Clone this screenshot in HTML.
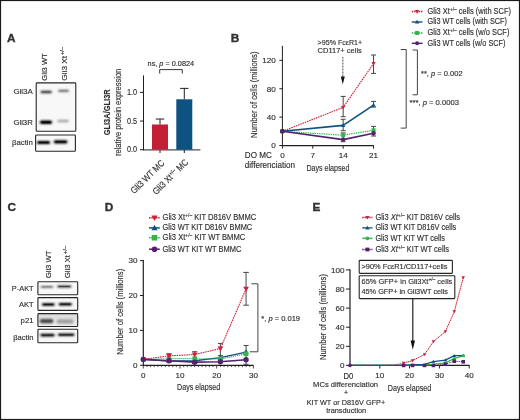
<!DOCTYPE html>
<html><head><meta charset="utf-8"><style>
html,body{margin:0;padding:0;background:#fff;}
svg{display:block;font-family:"Liberation Sans",sans-serif;will-change:transform;}
text{stroke:#303030;stroke-width:0.15px;}
</style></head><body>
<svg width="520" height="420" viewBox="0 0 520 420" fill="#303030">
<defs><filter id="bl" x="-30%" y="-250%" width="160%" height="600%"><feGaussianBlur stdDeviation="1"/></filter></defs>
<rect x="0" y="0" width="520" height="420" fill="#fff"/>
<text x="7.00" y="41.70" font-size="11.8" font-weight="bold" style="stroke-width:0.35px">A</text>
<text x="47.50" y="80.70" font-size="7.6" textLength="27.40" lengthAdjust="spacingAndGlyphs" transform="rotate(-90 47.50 80.70)">Gli3 WT</text>
<g transform="rotate(-90 67.00 80.70)">
<text x="67.00" y="80.70" font-size="7.6" textLength="24.80" lengthAdjust="spacingAndGlyphs">Gli3 Xt</text>
<text x="92.60" y="77.80" font-size="4.71" textLength="8.00" lengthAdjust="spacingAndGlyphs">+/–</text>
</g>
<rect x="36.20" y="82.90" width="39.60" height="48.30" fill="#f8f8f8" stroke="#262626" stroke-width="1.1" rx="0.8"/>
<rect x="40.40" y="90.80" width="11.60" height="2.40" rx="1.20" fill="#000" fill-opacity="0.75" filter="url(#bl)"/>
<rect x="41.90" y="91.40" width="8.60" height="1.20" rx="0.60" fill="#000" fill-opacity="0.3"/>
<rect x="57.90" y="89.70" width="11.20" height="2.20" rx="1.10" fill="#000" fill-opacity="0.55" filter="url(#bl)"/>
<rect x="59.40" y="90.25" width="8.20" height="1.10" rx="0.55" fill="#000" fill-opacity="0.15"/>
<rect x="39.80" y="120.60" width="12.40" height="3.40" rx="1.70" fill="#000" fill-opacity="1.0" filter="url(#bl)"/>
<rect x="41.30" y="121.45" width="9.40" height="1.70" rx="0.85" fill="#000" fill-opacity="0.85"/>
<rect x="57.20" y="119.80" width="11.60" height="2.40" rx="1.20" fill="#000" fill-opacity="0.35" filter="url(#bl)"/>
<rect x="35.60" y="135.00" width="39.80" height="16.20" fill="#f8f8f8" stroke="#262626" stroke-width="1.1" rx="0.8"/>
<rect x="36.90" y="140.90" width="13.40" height="3.20" rx="1.60" fill="#000" fill-opacity="1.0" filter="url(#bl)"/>
<rect x="38.40" y="141.70" width="10.40" height="1.60" rx="0.80" fill="#000" fill-opacity="0.7"/>
<rect x="53.60" y="140.20" width="14.00" height="3.20" rx="1.60" fill="#000" fill-opacity="1.0" filter="url(#bl)"/>
<rect x="55.10" y="141.00" width="11.00" height="1.60" rx="0.80" fill="#000" fill-opacity="0.65"/>
<text x="32.80" y="94.00" font-size="7.7" text-anchor="end" textLength="19.40" lengthAdjust="spacingAndGlyphs">Gli3A</text>
<text x="32.80" y="124.90" font-size="7.7" text-anchor="end" textLength="19.40" lengthAdjust="spacingAndGlyphs">Gli3R</text>
<text x="32.90" y="145.20" font-size="7.7" text-anchor="end" textLength="20.90" lengthAdjust="spacingAndGlyphs">βactin</text>
<line x1="143.50" y1="75.40" x2="143.50" y2="150.20" stroke="#231f20" stroke-width="1" stroke-linecap="butt"/>
<line x1="143.00" y1="149.90" x2="200.40" y2="149.90" stroke="#231f20" stroke-width="1" stroke-linecap="butt"/>
<line x1="140.00" y1="149.70" x2="143.50" y2="149.70" stroke="#231f20" stroke-width="1" stroke-linecap="butt"/>
<text x="137.20" y="152.40" font-size="8.4" text-anchor="end" textLength="10.20" lengthAdjust="spacingAndGlyphs">0.0</text>
<line x1="140.00" y1="121.05" x2="143.50" y2="121.05" stroke="#231f20" stroke-width="1" stroke-linecap="butt"/>
<text x="137.20" y="123.75" font-size="8.4" text-anchor="end" textLength="10.20" lengthAdjust="spacingAndGlyphs">0.5</text>
<line x1="140.00" y1="92.40" x2="143.50" y2="92.40" stroke="#231f20" stroke-width="1" stroke-linecap="butt"/>
<text x="137.20" y="95.10" font-size="8.4" text-anchor="end" textLength="10.20" lengthAdjust="spacingAndGlyphs">1.0</text>
<rect x="152.00" y="124.49" width="16.00" height="25.21" fill="#c42035"/>
<rect x="176.30" y="99.28" width="16.00" height="50.42" fill="#0e5281"/>
<line x1="160.00" y1="124.49" x2="160.00" y2="119.04" stroke="#231f20" stroke-width="1" stroke-linecap="butt"/>
<line x1="155.80" y1="119.04" x2="164.20" y2="119.04" stroke="#231f20" stroke-width="1" stroke-linecap="butt"/>
<line x1="184.30" y1="99.28" x2="184.30" y2="88.39" stroke="#231f20" stroke-width="1" stroke-linecap="butt"/>
<line x1="180.10" y1="88.39" x2="188.50" y2="88.39" stroke="#231f20" stroke-width="1" stroke-linecap="butt"/>
<line x1="160.00" y1="150.00" x2="160.00" y2="153.00" stroke="#231f20" stroke-width="1" stroke-linecap="butt"/>
<line x1="184.30" y1="150.00" x2="184.30" y2="153.00" stroke="#231f20" stroke-width="1" stroke-linecap="butt"/>
<polyline points="159.70,73.50 159.70,69.60 182.30,69.60 182.30,73.50" fill="none" stroke="#231f20" stroke-width="0.9" stroke-linejoin="round"/>
<text x="147.60" y="65.90" font-size="7.0" textLength="46.50" lengthAdjust="spacingAndGlyphs">ns, <tspan font-style="italic">p</tspan> = 0.0824</text>
<text x="109.60" y="135.30" font-size="9.6" font-weight="bold" textLength="46.00" lengthAdjust="spacingAndGlyphs" transform="rotate(-90 109.60 135.30)">GLI3A/GLI3R</text>
<text x="121.00" y="156.00" font-size="9.6" textLength="87.20" lengthAdjust="spacingAndGlyphs" transform="rotate(-90 121.00 156.00)">relative protein expression</text>
<text x="165.00" y="163.60" font-size="9.2" text-anchor="end" textLength="43.50" lengthAdjust="spacingAndGlyphs" transform="rotate(-45 165.00 163.60)">Gli3 WT MC</text>
<g transform="rotate(-45 188.8 162.8)">
<text x="188.8" y="162.8" font-size="9.2" text-anchor="end" textLength="46" lengthAdjust="spacingAndGlyphs">Gli3 Xt<tspan dy="-3.5" font-size="5.6">+/–</tspan><tspan dy="3.5"> MC</tspan></text>
</g>
<text x="230.80" y="41.50" font-size="11.8" font-weight="bold" style="stroke-width:0.35px">B</text>
<line x1="282.40" y1="45.80" x2="282.40" y2="146.00" stroke="#231f20" stroke-width="1" stroke-linecap="butt"/>
<line x1="282.40" y1="145.70" x2="373.80" y2="145.70" stroke="#231f20" stroke-width="1.2" stroke-linecap="butt"/>
<line x1="279.40" y1="145.50" x2="282.40" y2="145.50" stroke="#231f20" stroke-width="1" stroke-linecap="butt"/>
<text x="275.80" y="148.30" font-size="8.1" text-anchor="end">0</text>
<line x1="279.40" y1="117.12" x2="282.40" y2="117.12" stroke="#231f20" stroke-width="1" stroke-linecap="butt"/>
<text x="275.80" y="119.92" font-size="8.1" text-anchor="end">40</text>
<line x1="279.40" y1="88.74" x2="282.40" y2="88.74" stroke="#231f20" stroke-width="1" stroke-linecap="butt"/>
<text x="275.80" y="91.54" font-size="8.1" text-anchor="end">80</text>
<line x1="279.40" y1="60.36" x2="282.40" y2="60.36" stroke="#231f20" stroke-width="1" stroke-linecap="butt"/>
<text x="275.80" y="63.16" font-size="8.1" text-anchor="end">120</text>
<line x1="282.40" y1="145.70" x2="282.40" y2="148.70" stroke="#231f20" stroke-width="1" stroke-linecap="butt"/>
<text x="282.40" y="158.20" font-size="8.1" text-anchor="middle">0</text>
<line x1="312.78" y1="145.70" x2="312.78" y2="148.70" stroke="#231f20" stroke-width="1" stroke-linecap="butt"/>
<text x="312.78" y="158.20" font-size="8.1" text-anchor="middle">7</text>
<line x1="343.16" y1="145.70" x2="343.16" y2="148.70" stroke="#231f20" stroke-width="1" stroke-linecap="butt"/>
<text x="343.16" y="158.20" font-size="8.1" text-anchor="middle">14</text>
<line x1="373.54" y1="145.70" x2="373.54" y2="148.70" stroke="#231f20" stroke-width="1" stroke-linecap="butt"/>
<text x="373.54" y="158.20" font-size="8.1" text-anchor="middle">21</text>
<text x="257.20" y="137.90" font-size="9.3" textLength="86.40" lengthAdjust="spacingAndGlyphs" transform="rotate(-90 257.20 137.90)">Number of cells (millions)</text>
<text x="244.80" y="158.40" font-size="8.3" textLength="27.00" lengthAdjust="spacingAndGlyphs">DO MC</text>
<text x="244.80" y="167.90" font-size="8.3" textLength="50.20" lengthAdjust="spacingAndGlyphs">differenciation</text>
<text x="306.40" y="171.00" font-size="9.0" textLength="43.10" lengthAdjust="spacingAndGlyphs">Days elapsed</text>
<text x="317.60" y="44.80" font-size="7.6" textLength="44.60" lengthAdjust="spacingAndGlyphs">&gt;95% FcεR1+</text>
<text x="317.60" y="53.40" font-size="7.6" textLength="44.20" lengthAdjust="spacingAndGlyphs">CD117+ cells</text>
<line x1="342.80" y1="57.00" x2="342.80" y2="77.50" stroke="#777" stroke-width="1.3" stroke-dasharray="0.9,0.6" stroke-linecap="butt"/>
<polygon points="340.8,76.4 344.8,76.4 342.8,84.3" fill="#111"/>
<line x1="343.16" y1="96.40" x2="343.16" y2="116.70" stroke="#454545" stroke-width="1.0" stroke-linecap="butt"/>
<line x1="340.66" y1="96.40" x2="345.66" y2="96.40" stroke="#454545" stroke-width="1.0" stroke-linecap="butt"/>
<line x1="340.66" y1="116.70" x2="345.66" y2="116.70" stroke="#454545" stroke-width="1.0" stroke-linecap="butt"/>
<line x1="343.16" y1="119.30" x2="343.16" y2="130.70" stroke="#454545" stroke-width="1.0" stroke-linecap="butt"/>
<line x1="340.66" y1="119.30" x2="345.66" y2="119.30" stroke="#454545" stroke-width="1.0" stroke-linecap="butt"/>
<line x1="340.66" y1="130.70" x2="345.66" y2="130.70" stroke="#454545" stroke-width="1.0" stroke-linecap="butt"/>
<line x1="343.16" y1="132.90" x2="343.16" y2="141.70" stroke="#454545" stroke-width="1.0" stroke-linecap="butt"/>
<line x1="340.66" y1="132.90" x2="345.66" y2="132.90" stroke="#454545" stroke-width="1.0" stroke-linecap="butt"/>
<line x1="340.66" y1="141.70" x2="345.66" y2="141.70" stroke="#454545" stroke-width="1.0" stroke-linecap="butt"/>
<line x1="373.54" y1="55.00" x2="373.54" y2="73.40" stroke="#454545" stroke-width="1.0" stroke-linecap="butt"/>
<line x1="371.04" y1="55.00" x2="376.04" y2="55.00" stroke="#454545" stroke-width="1.0" stroke-linecap="butt"/>
<line x1="371.04" y1="73.40" x2="376.04" y2="73.40" stroke="#454545" stroke-width="1.0" stroke-linecap="butt"/>
<line x1="373.54" y1="101.40" x2="373.54" y2="107.10" stroke="#454545" stroke-width="1.0" stroke-linecap="butt"/>
<line x1="371.04" y1="101.40" x2="376.04" y2="101.40" stroke="#454545" stroke-width="1.0" stroke-linecap="butt"/>
<line x1="371.04" y1="107.10" x2="376.04" y2="107.10" stroke="#454545" stroke-width="1.0" stroke-linecap="butt"/>
<line x1="373.54" y1="126.40" x2="373.54" y2="136.00" stroke="#454545" stroke-width="1.0" stroke-linecap="butt"/>
<line x1="371.04" y1="126.40" x2="376.04" y2="126.40" stroke="#454545" stroke-width="1.0" stroke-linecap="butt"/>
<line x1="371.04" y1="136.00" x2="376.04" y2="136.00" stroke="#454545" stroke-width="1.0" stroke-linecap="butt"/>
<polyline points="282.40,131.31 343.16,107.40 373.54,63.55" fill="none" stroke="#d01f3a" stroke-width="1.1" stroke-dasharray="1.6,0.8" stroke-linejoin="round"/>
<polyline points="282.40,131.31 343.16,135.21 373.54,130.25" fill="none" stroke="#33b54a" stroke-width="1.2" stroke-dasharray="1.4,0.9" stroke-linejoin="round"/>
<polyline points="282.40,131.31 343.16,139.61 373.54,133.30" fill="none" stroke="#55206f" stroke-width="1.6" stroke-linejoin="round"/>
<polyline points="282.40,131.31 343.16,125.35 373.54,105.06" fill="none" stroke="#0e5184" stroke-width="1.6" stroke-linejoin="round"/>
<rect x="280.40" y="129.31" width="4.00" height="4.00" fill="#33b54a"/>
<rect x="341.16" y="133.21" width="4.00" height="4.00" fill="#33b54a"/>
<rect x="371.54" y="128.25" width="4.00" height="4.00" fill="#33b54a"/>
<circle cx="282.40" cy="131.31" r="2.20" fill="#55206f"/>
<circle cx="343.16" cy="139.61" r="2.20" fill="#55206f"/>
<circle cx="373.54" cy="133.30" r="2.20" fill="#55206f"/>
<polygon points="280.20,132.91 284.60,132.91 282.40,129.11" fill="#0e5184"/>
<polygon points="340.96,126.95 345.36,126.95 343.16,123.15" fill="#0e5184"/>
<polygon points="371.34,106.66 375.74,106.66 373.54,102.86" fill="#0e5184"/>
<polygon points="341.07,105.88 345.25,105.88 343.16,109.49" fill="#d01f3a"/>
<polygon points="371.45,62.03 375.63,62.03 373.54,65.64" fill="#d01f3a"/>
<circle cx="282.40" cy="131.31" r="2.30" fill="#55206f"/>
<line x1="411.80" y1="11.50" x2="422.50" y2="11.50" stroke="#d01f3a" stroke-width="1.4" stroke-dasharray="1.5,0.8" stroke-linecap="butt"/>
<polygon points="414.90,9.90 419.30,9.90 417.10,13.70" fill="#d01f3a"/>
<text x="427.50" y="13.80" font-size="8.2" textLength="83.50" lengthAdjust="spacingAndGlyphs">Gli3 Xt<tspan dy="-3.1" font-size="5.3">+/–</tspan><tspan dy="3.1"> cells (with SCF)</tspan></text>
<line x1="411.80" y1="22.00" x2="422.50" y2="22.00" stroke="#0e5184" stroke-width="1.4" stroke-linecap="butt"/>
<polygon points="414.90,23.60 419.30,23.60 417.10,19.80" fill="#0e5184"/>
<text x="427.50" y="24.30" font-size="8.2" textLength="79.50" lengthAdjust="spacingAndGlyphs">Gli3 WT cells (with SCF)</text>
<line x1="411.80" y1="33.00" x2="422.50" y2="33.00" stroke="#33b54a" stroke-width="1.4" stroke-dasharray="1.5,0.8" stroke-linecap="butt"/>
<rect x="415.10" y="31.00" width="4.00" height="4.00" fill="#33b54a"/>
<text x="427.50" y="35.30" font-size="8.2" textLength="81.90" lengthAdjust="spacingAndGlyphs">Gli3 Xt<tspan dy="-3.1" font-size="5.3">+/–</tspan><tspan dy="3.1"> cells (w/o SCF)</tspan></text>
<line x1="411.80" y1="43.30" x2="422.50" y2="43.30" stroke="#55206f" stroke-width="1.4" stroke-linecap="butt"/>
<circle cx="417.10" cy="43.30" r="2.00" fill="#55206f"/>
<text x="427.50" y="45.60" font-size="8.2" textLength="78.00" lengthAdjust="spacingAndGlyphs">Gli3 WT cells (w/o SCF)</text>
<polyline points="400.70,49.50 406.20,49.50 406.20,128.10 400.70,128.10" fill="none" stroke="#444" stroke-width="1" stroke-linejoin="round"/>
<polyline points="412.60,50.00 417.40,50.00 417.40,94.80 412.60,94.80" fill="none" stroke="#444" stroke-width="1" stroke-linejoin="round"/>
<text x="421.00" y="75.80" font-size="7.4" textLength="41.60" lengthAdjust="spacingAndGlyphs">**, <tspan font-style="italic">p</tspan> = 0.002</text>
<text x="409.50" y="104.90" font-size="7.4" textLength="49.50" lengthAdjust="spacingAndGlyphs">***, <tspan font-style="italic">p</tspan> = 0.0003</text>
<text x="7.50" y="211.40" font-size="11.8" font-weight="bold" style="stroke-width:0.35px">C</text>
<text x="50.60" y="278.30" font-size="7.7" textLength="27.80" lengthAdjust="spacingAndGlyphs" transform="rotate(-90 50.60 278.30)">Gli3 WT</text>
<g transform="rotate(-90 69.80 278.30)">
<text x="69.80" y="278.30" font-size="7.6" textLength="23.20" lengthAdjust="spacingAndGlyphs">Gli3 Xt</text>
<text x="93.80" y="275.40" font-size="4.71" textLength="8.40" lengthAdjust="spacingAndGlyphs">+/–</text>
</g>
<defs><linearGradient id="p21g" x1="0" y1="0" x2="0" y2="1"><stop offset="0" stop-color="#d8d8d8"/><stop offset="0.5" stop-color="#e4e4e4"/><stop offset="1" stop-color="#eeeeee"/></linearGradient></defs>
<rect x="37.90" y="281.80" width="39.80" height="12.90" fill="#f8f8f8" stroke="#262626" stroke-width="1.1" rx="0.8"/>
<rect x="37.90" y="297.60" width="39.80" height="12.80" fill="#f8f8f8" stroke="#262626" stroke-width="1.1" rx="0.8"/>
<rect x="37.90" y="313.60" width="39.80" height="12.90" fill="url(#p21g)" stroke="#262626" stroke-width="1.1" rx="0.8"/>
<rect x="37.90" y="329.30" width="39.80" height="13.40" fill="#f8f8f8" stroke="#262626" stroke-width="1.1" rx="0.8"/>
<rect x="40.50" y="286.00" width="13.00" height="1.80" rx="0.90" fill="#000" fill-opacity="0.6" filter="url(#bl)"/>
<rect x="42.00" y="286.45" width="10.00" height="0.90" rx="0.45" fill="#000" fill-opacity="0.3"/>
<rect x="57.00" y="285.40" width="14.60" height="2.20" rx="1.10" fill="#000" fill-opacity="0.85" filter="url(#bl)"/>
<rect x="58.50" y="285.95" width="11.60" height="1.10" rx="0.55" fill="#000" fill-opacity="0.5"/>
<rect x="41.80" y="303.20" width="13.00" height="2.60" rx="1.30" fill="#000" fill-opacity="1.0" filter="url(#bl)"/>
<rect x="43.30" y="303.85" width="10.00" height="1.30" rx="0.65" fill="#000" fill-opacity="0.6"/>
<rect x="58.60" y="302.90" width="13.40" height="2.60" rx="1.30" fill="#000" fill-opacity="1.0" filter="url(#bl)"/>
<rect x="60.10" y="303.55" width="10.40" height="1.30" rx="0.65" fill="#000" fill-opacity="0.6"/>
<rect x="39.80" y="318.90" width="13.60" height="4.40" rx="2.00" fill="#000" fill-opacity="0.7" filter="url(#bl)"/>
<rect x="56.50" y="319.30" width="17.00" height="4.40" rx="2.00" fill="#000" fill-opacity="0.3" filter="url(#bl)"/>
<rect x="40.20" y="333.80" width="14.60" height="2.60" rx="1.30" fill="#000" fill-opacity="0.95" filter="url(#bl)"/>
<rect x="41.70" y="334.45" width="11.60" height="1.30" rx="0.65" fill="#000" fill-opacity="0.5"/>
<rect x="57.75" y="333.50" width="16.90" height="2.60" rx="1.30" fill="#000" fill-opacity="0.95" filter="url(#bl)"/>
<rect x="59.25" y="334.15" width="13.90" height="1.30" rx="0.65" fill="#000" fill-opacity="0.5"/>
<text x="33.60" y="290.80" font-size="7.7" text-anchor="end" textLength="21.80" lengthAdjust="spacingAndGlyphs">P-AKT</text>
<text x="33.60" y="306.60" font-size="7.7" text-anchor="end" textLength="14.60" lengthAdjust="spacingAndGlyphs">AKT</text>
<text x="33.50" y="322.90" font-size="7.7" text-anchor="end" textLength="12.90" lengthAdjust="spacingAndGlyphs">p21</text>
<text x="33.60" y="339.60" font-size="7.7" text-anchor="end" textLength="20.40" lengthAdjust="spacingAndGlyphs">βactin</text>
<text x="104.80" y="210.60" font-size="11.8" font-weight="bold" style="stroke-width:0.35px">D</text>
<line x1="143.30" y1="260.00" x2="143.30" y2="365.80" stroke="#231f20" stroke-width="1.2" stroke-linecap="butt"/>
<line x1="143.30" y1="365.30" x2="253.60" y2="365.30" stroke="#231f20" stroke-width="1.2" stroke-linecap="butt"/>
<line x1="140.00" y1="365.30" x2="143.30" y2="365.30" stroke="#231f20" stroke-width="1" stroke-linecap="butt"/>
<text x="137.60" y="368.10" font-size="8.1" text-anchor="end">0</text>
<line x1="140.00" y1="330.40" x2="143.30" y2="330.40" stroke="#231f20" stroke-width="1" stroke-linecap="butt"/>
<text x="137.60" y="333.20" font-size="8.1" text-anchor="end">10</text>
<line x1="140.00" y1="295.50" x2="143.30" y2="295.50" stroke="#231f20" stroke-width="1" stroke-linecap="butt"/>
<text x="137.60" y="298.30" font-size="8.1" text-anchor="end">20</text>
<line x1="140.00" y1="260.60" x2="143.30" y2="260.60" stroke="#231f20" stroke-width="1" stroke-linecap="butt"/>
<text x="137.60" y="263.40" font-size="8.1" text-anchor="end">30</text>
<line x1="143.30" y1="365.30" x2="143.30" y2="368.50" stroke="#231f20" stroke-width="0.8" stroke-linecap="butt"/>
<line x1="146.97" y1="365.30" x2="146.97" y2="367.10" stroke="#231f20" stroke-width="0.8" stroke-linecap="butt"/>
<line x1="150.64" y1="365.30" x2="150.64" y2="367.10" stroke="#231f20" stroke-width="0.8" stroke-linecap="butt"/>
<line x1="154.31" y1="365.30" x2="154.31" y2="367.10" stroke="#231f20" stroke-width="0.8" stroke-linecap="butt"/>
<line x1="157.98" y1="365.30" x2="157.98" y2="367.10" stroke="#231f20" stroke-width="0.8" stroke-linecap="butt"/>
<line x1="161.65" y1="365.30" x2="161.65" y2="367.10" stroke="#231f20" stroke-width="0.8" stroke-linecap="butt"/>
<line x1="165.32" y1="365.30" x2="165.32" y2="367.10" stroke="#231f20" stroke-width="0.8" stroke-linecap="butt"/>
<line x1="168.99" y1="365.30" x2="168.99" y2="367.10" stroke="#231f20" stroke-width="0.8" stroke-linecap="butt"/>
<line x1="172.66" y1="365.30" x2="172.66" y2="367.10" stroke="#231f20" stroke-width="0.8" stroke-linecap="butt"/>
<line x1="176.33" y1="365.30" x2="176.33" y2="367.10" stroke="#231f20" stroke-width="0.8" stroke-linecap="butt"/>
<line x1="180.00" y1="365.30" x2="180.00" y2="368.50" stroke="#231f20" stroke-width="0.8" stroke-linecap="butt"/>
<line x1="183.67" y1="365.30" x2="183.67" y2="367.10" stroke="#231f20" stroke-width="0.8" stroke-linecap="butt"/>
<line x1="187.34" y1="365.30" x2="187.34" y2="367.10" stroke="#231f20" stroke-width="0.8" stroke-linecap="butt"/>
<line x1="191.01" y1="365.30" x2="191.01" y2="367.10" stroke="#231f20" stroke-width="0.8" stroke-linecap="butt"/>
<line x1="194.68" y1="365.30" x2="194.68" y2="367.10" stroke="#231f20" stroke-width="0.8" stroke-linecap="butt"/>
<line x1="198.35" y1="365.30" x2="198.35" y2="367.10" stroke="#231f20" stroke-width="0.8" stroke-linecap="butt"/>
<line x1="202.02" y1="365.30" x2="202.02" y2="367.10" stroke="#231f20" stroke-width="0.8" stroke-linecap="butt"/>
<line x1="205.69" y1="365.30" x2="205.69" y2="367.10" stroke="#231f20" stroke-width="0.8" stroke-linecap="butt"/>
<line x1="209.36" y1="365.30" x2="209.36" y2="367.10" stroke="#231f20" stroke-width="0.8" stroke-linecap="butt"/>
<line x1="213.03" y1="365.30" x2="213.03" y2="367.10" stroke="#231f20" stroke-width="0.8" stroke-linecap="butt"/>
<line x1="216.70" y1="365.30" x2="216.70" y2="368.50" stroke="#231f20" stroke-width="0.8" stroke-linecap="butt"/>
<line x1="220.37" y1="365.30" x2="220.37" y2="367.10" stroke="#231f20" stroke-width="0.8" stroke-linecap="butt"/>
<line x1="224.04" y1="365.30" x2="224.04" y2="367.10" stroke="#231f20" stroke-width="0.8" stroke-linecap="butt"/>
<line x1="227.71" y1="365.30" x2="227.71" y2="367.10" stroke="#231f20" stroke-width="0.8" stroke-linecap="butt"/>
<line x1="231.38" y1="365.30" x2="231.38" y2="367.10" stroke="#231f20" stroke-width="0.8" stroke-linecap="butt"/>
<line x1="235.05" y1="365.30" x2="235.05" y2="367.10" stroke="#231f20" stroke-width="0.8" stroke-linecap="butt"/>
<line x1="238.72" y1="365.30" x2="238.72" y2="367.10" stroke="#231f20" stroke-width="0.8" stroke-linecap="butt"/>
<line x1="242.39" y1="365.30" x2="242.39" y2="367.10" stroke="#231f20" stroke-width="0.8" stroke-linecap="butt"/>
<line x1="246.06" y1="365.30" x2="246.06" y2="367.10" stroke="#231f20" stroke-width="0.8" stroke-linecap="butt"/>
<line x1="249.73" y1="365.30" x2="249.73" y2="367.10" stroke="#231f20" stroke-width="0.8" stroke-linecap="butt"/>
<line x1="253.40" y1="365.30" x2="253.40" y2="368.50" stroke="#231f20" stroke-width="0.8" stroke-linecap="butt"/>
<text x="143.30" y="377.70" font-size="8.1" text-anchor="middle">0</text>
<text x="180.00" y="377.70" font-size="8.1" text-anchor="middle">10</text>
<text x="216.70" y="377.70" font-size="8.1" text-anchor="middle">20</text>
<text x="253.40" y="377.70" font-size="8.1" text-anchor="middle">30</text>
<text x="122.80" y="354.70" font-size="9.3" textLength="85.90" lengthAdjust="spacingAndGlyphs" transform="rotate(-90 122.80 354.70)">Number of cells (millions)</text>
<text x="177.10" y="390.40" font-size="9.0" textLength="43.10" lengthAdjust="spacingAndGlyphs">Days elapsed</text>
<line x1="168.99" y1="353.78" x2="168.99" y2="360.06" stroke="#454545" stroke-width="1.0" stroke-linecap="butt"/>
<line x1="166.49" y1="353.78" x2="171.49" y2="353.78" stroke="#454545" stroke-width="1.0" stroke-linecap="butt"/>
<line x1="166.49" y1="360.06" x2="171.49" y2="360.06" stroke="#454545" stroke-width="1.0" stroke-linecap="butt"/>
<line x1="194.68" y1="351.69" x2="194.68" y2="363.56" stroke="#454545" stroke-width="1.0" stroke-linecap="butt"/>
<line x1="192.18" y1="351.69" x2="197.18" y2="351.69" stroke="#454545" stroke-width="1.0" stroke-linecap="butt"/>
<line x1="192.18" y1="363.56" x2="197.18" y2="363.56" stroke="#454545" stroke-width="1.0" stroke-linecap="butt"/>
<line x1="220.37" y1="343.40" x2="220.37" y2="355.60" stroke="#454545" stroke-width="1.0" stroke-linecap="butt"/>
<line x1="217.87" y1="343.40" x2="222.87" y2="343.40" stroke="#454545" stroke-width="1.0" stroke-linecap="butt"/>
<line x1="217.87" y1="355.60" x2="222.87" y2="355.60" stroke="#454545" stroke-width="1.0" stroke-linecap="butt"/>
<line x1="246.06" y1="272.40" x2="246.06" y2="305.20" stroke="#454545" stroke-width="1.0" stroke-linecap="butt"/>
<line x1="243.26" y1="272.40" x2="248.86" y2="272.40" stroke="#454545" stroke-width="1.0" stroke-linecap="butt"/>
<line x1="243.26" y1="305.20" x2="248.86" y2="305.20" stroke="#454545" stroke-width="1.0" stroke-linecap="butt"/>
<line x1="246.06" y1="345.50" x2="246.06" y2="364.30" stroke="#454545" stroke-width="1.0" stroke-linecap="butt"/>
<line x1="243.56" y1="345.50" x2="248.56" y2="345.50" stroke="#454545" stroke-width="1.0" stroke-linecap="butt"/>
<line x1="243.56" y1="364.30" x2="248.56" y2="364.30" stroke="#454545" stroke-width="1.0" stroke-linecap="butt"/>
<polyline points="143.30,359.37 168.99,355.88 194.68,354.48 220.37,348.55 246.06,288.87" fill="none" stroke="#d01f3a" stroke-width="1.1" stroke-dasharray="1.6,0.8" stroke-linejoin="round"/>
<polyline points="143.30,359.37 168.99,361.11 194.68,360.76 220.37,357.62 246.06,352.04" fill="none" stroke="#0e5184" stroke-width="1.3" stroke-linejoin="round"/>
<polyline points="143.30,359.37 168.99,358.67 194.68,358.67 220.37,359.02 246.06,353.78" fill="none" stroke="#33b54a" stroke-width="1.1" stroke-dasharray="1.2,0.8" stroke-linejoin="round"/>
<polyline points="143.30,359.37 168.99,360.76 194.68,362.16 220.37,361.81 246.06,359.72" fill="none" stroke="#55206f" stroke-width="1.6" stroke-linejoin="round"/>
<polygon points="140.55,361.37 146.05,361.37 143.30,356.62" fill="#0e5184"/>
<polygon points="166.24,363.11 171.74,363.11 168.99,358.36" fill="#0e5184"/>
<polygon points="191.93,362.76 197.43,362.76 194.68,358.01" fill="#0e5184"/>
<polygon points="217.62,359.62 223.12,359.62 220.37,354.87" fill="#0e5184"/>
<polygon points="243.31,354.04 248.81,354.04 246.06,349.29" fill="#0e5184"/>
<rect x="141.00" y="357.07" width="4.60" height="4.60" fill="#33b54a"/>
<rect x="166.69" y="356.37" width="4.60" height="4.60" fill="#33b54a"/>
<rect x="192.38" y="356.37" width="4.60" height="4.60" fill="#33b54a"/>
<rect x="218.07" y="356.72" width="4.60" height="4.60" fill="#33b54a"/>
<rect x="243.76" y="351.48" width="4.60" height="4.60" fill="#33b54a"/>
<circle cx="143.30" cy="359.37" r="2.70" fill="#55206f"/>
<circle cx="168.99" cy="360.76" r="2.70" fill="#55206f"/>
<circle cx="194.68" cy="362.16" r="2.70" fill="#55206f"/>
<circle cx="220.37" cy="361.81" r="2.70" fill="#55206f"/>
<circle cx="246.06" cy="359.72" r="2.70" fill="#55206f"/>
<polygon points="166.13,353.80 171.85,353.80 168.99,358.74" fill="#d01f3a"/>
<polygon points="191.82,352.40 197.54,352.40 194.68,357.34" fill="#d01f3a"/>
<polygon points="217.51,346.47 223.23,346.47 220.37,351.41" fill="#d01f3a"/>
<polygon points="243.20,286.79 248.92,286.79 246.06,291.73" fill="#d01f3a"/>
<line x1="149.00" y1="217.80" x2="159.80" y2="217.80" stroke="#d01f3a" stroke-width="1.5" stroke-dasharray="1.5,0.8" stroke-linecap="butt"/>
<polygon points="151.42,215.56 157.58,215.56 154.50,220.88" fill="#d01f3a"/>
<text x="162.50" y="220.20" font-size="8.2" textLength="93.80" lengthAdjust="spacingAndGlyphs">Gli3 Xt<tspan dy="-3.1" font-size="5.3">+/–</tspan><tspan dy="3.1"> KIT D816V BMMC</tspan></text>
<line x1="149.00" y1="227.90" x2="159.80" y2="227.90" stroke="#0e5184" stroke-width="1.5" stroke-linecap="butt"/>
<polygon points="151.42,230.14 157.58,230.14 154.50,224.82" fill="#0e5184"/>
<text x="162.50" y="230.30" font-size="8.2" textLength="89.70" lengthAdjust="spacingAndGlyphs">Gli3 WT KIT D816V BMMC</text>
<line x1="149.00" y1="237.70" x2="159.80" y2="237.70" stroke="#33b54a" stroke-width="1.5" stroke-dasharray="1.5,0.8" stroke-linecap="butt"/>
<rect x="151.70" y="234.90" width="5.60" height="5.60" fill="#33b54a"/>
<text x="162.50" y="240.10" font-size="8.2" textLength="82.80" lengthAdjust="spacingAndGlyphs">Gli3 Xt<tspan dy="-3.1" font-size="5.3">+/–</tspan><tspan dy="3.1"> KIT WT BMMC</tspan></text>
<line x1="149.00" y1="249.20" x2="159.80" y2="249.20" stroke="#55206f" stroke-width="1.5" stroke-linecap="butt"/>
<circle cx="154.50" cy="249.20" r="2.80" fill="#55206f"/>
<text x="162.50" y="251.60" font-size="8.2" textLength="78.80" lengthAdjust="spacingAndGlyphs">Gli3 WT KIT WT BMMC</text>
<polyline points="251.40,283.80 257.90,283.80 257.90,351.80 249.90,351.80" fill="none" stroke="#444" stroke-width="1" stroke-linejoin="round"/>
<text x="261.30" y="320.60" font-size="7.0" textLength="38.70" lengthAdjust="spacingAndGlyphs">*, <tspan font-style="italic">p</tspan> = 0.019</text>
<text x="312.50" y="210.80" font-size="11.8" font-weight="bold" style="stroke-width:0.35px">E</text>
<line x1="350.00" y1="269.20" x2="350.00" y2="365.80" stroke="#231f20" stroke-width="1.2" stroke-linecap="butt"/>
<line x1="350.00" y1="365.30" x2="469.60" y2="365.30" stroke="#231f20" stroke-width="1.2" stroke-linecap="butt"/>
<line x1="346.00" y1="365.40" x2="350.00" y2="365.40" stroke="#231f20" stroke-width="1" stroke-linecap="butt"/>
<text x="344.50" y="368.20" font-size="8.1" text-anchor="end">0</text>
<line x1="346.00" y1="346.30" x2="350.00" y2="346.30" stroke="#231f20" stroke-width="1" stroke-linecap="butt"/>
<text x="344.50" y="349.10" font-size="8.1" text-anchor="end">20</text>
<line x1="346.00" y1="327.20" x2="350.00" y2="327.20" stroke="#231f20" stroke-width="1" stroke-linecap="butt"/>
<text x="344.50" y="330.00" font-size="8.1" text-anchor="end">40</text>
<line x1="346.00" y1="308.10" x2="350.00" y2="308.10" stroke="#231f20" stroke-width="1" stroke-linecap="butt"/>
<text x="344.50" y="310.90" font-size="8.1" text-anchor="end">60</text>
<line x1="346.00" y1="289.00" x2="350.00" y2="289.00" stroke="#231f20" stroke-width="1" stroke-linecap="butt"/>
<text x="344.50" y="291.80" font-size="8.1" text-anchor="end">80</text>
<line x1="346.00" y1="269.90" x2="350.00" y2="269.90" stroke="#231f20" stroke-width="1" stroke-linecap="butt"/>
<text x="344.50" y="272.70" font-size="8.1" text-anchor="end">100</text>
<line x1="379.80" y1="365.30" x2="379.80" y2="368.50" stroke="#231f20" stroke-width="1" stroke-linecap="butt"/>
<text x="379.80" y="377.70" font-size="8.1" text-anchor="middle">10</text>
<line x1="409.60" y1="365.30" x2="409.60" y2="368.50" stroke="#231f20" stroke-width="1" stroke-linecap="butt"/>
<text x="409.60" y="377.70" font-size="8.1" text-anchor="middle">20</text>
<line x1="439.40" y1="365.30" x2="439.40" y2="368.50" stroke="#231f20" stroke-width="1" stroke-linecap="butt"/>
<text x="439.40" y="377.70" font-size="8.1" text-anchor="middle">30</text>
<line x1="469.20" y1="365.30" x2="469.20" y2="368.50" stroke="#231f20" stroke-width="1" stroke-linecap="butt"/>
<text x="469.20" y="377.70" font-size="8.1" text-anchor="middle">40</text>
<text x="343.40" y="379.00" font-size="8.3" textLength="9.80" lengthAdjust="spacingAndGlyphs">D0</text>
<text x="325.90" y="359.90" font-size="9.3" textLength="85.90" lengthAdjust="spacingAndGlyphs" transform="rotate(-90 325.90 359.90)">Number of cells (millions)</text>
<text x="387.80" y="390.50" font-size="9.0" textLength="43.40" lengthAdjust="spacingAndGlyphs">Days elapsed</text>
<text x="345.60" y="387.00" font-size="7.8" text-anchor="middle" textLength="65.00" lengthAdjust="spacingAndGlyphs">MCs differenciation</text>
<text x="346.00" y="395.30" font-size="7.8" text-anchor="middle">+</text>
<text x="346.00" y="404.80" font-size="7.8" text-anchor="middle" textLength="78.50" lengthAdjust="spacingAndGlyphs">KIT WT or D816V GFP+</text>
<text x="346.20" y="413.20" font-size="7.8" text-anchor="middle" textLength="40.00" lengthAdjust="spacingAndGlyphs">transduction</text>
<rect x="359.20" y="260.40" width="93.20" height="13.00" fill="none" stroke="#262626" stroke-width="1.1" rx="0.8"/>
<rect x="359.20" y="275.80" width="95.60" height="22.80" fill="none" stroke="#262626" stroke-width="1.1" rx="0.8"/>
<text x="361.50" y="268.70" font-size="8.0" textLength="85.90" lengthAdjust="spacingAndGlyphs">&gt;90% FcεR1/CD117+cells</text>
<text x="361.5" y="284.4" font-size="8.0" textLength="90.8" lengthAdjust="spacingAndGlyphs">65% GFP+ in Gli3Xt<tspan dy="-3" font-size="5.2">+/–</tspan><tspan dy="3"> cells</tspan></text>
<text x="361.50" y="293.60" font-size="8.0" textLength="86.50" lengthAdjust="spacingAndGlyphs">45% GFP+ in Gli3WT cells</text>
<line x1="412.80" y1="299.00" x2="412.80" y2="342.00" stroke="#222" stroke-width="1.2" stroke-linecap="butt"/>
<polygon points="410.6,340.6 415.0,340.6 412.8,349.8" fill="#111"/>
<polyline points="350.00,365.40 358.94,365.40 367.88,365.40 376.82,365.40 385.76,365.40 394.70,365.40 403.64,365.40 412.58,365.40 424.50,365.40 433.44,365.40 445.36,364.25 454.30,361.20 463.24,361.77" fill="none" stroke="#55206f" stroke-width="1.0" stroke-dasharray="1,0.8" stroke-linejoin="round"/>
<polyline points="350.00,365.40 358.94,365.40 367.88,365.40 376.82,365.40 385.76,365.40 394.70,365.40 403.64,365.40 412.58,365.11 424.50,364.92 433.44,364.44 445.36,362.92 454.30,358.71 463.24,355.66" fill="none" stroke="#33b54a" stroke-width="1.3" stroke-linejoin="round"/>
<polyline points="350.00,365.40 358.94,365.40 367.88,365.40 376.82,365.40 385.76,365.40 394.70,365.40 403.64,365.40 412.58,364.92 424.50,364.44 433.44,361.58 445.36,360.05 454.30,355.66 463.24,355.66" fill="none" stroke="#0e5184" stroke-width="1.3" stroke-linejoin="round"/>
<polyline points="350.00,365.40 358.94,365.40 367.88,365.40 376.82,365.40 385.76,365.40 394.70,364.92 403.64,362.92" fill="none" stroke="#d01f3a" stroke-width="0.9" stroke-dasharray="1,0.8" stroke-linejoin="round"/>
<polyline points="403.64,362.92 412.58,360.62 424.50,354.51 433.44,341.52 445.36,331.59 454.30,311.54 463.24,277.64" fill="none" stroke="#d01f3a" stroke-width="1.0" stroke-dasharray="1.6,0.5" stroke-linejoin="round"/>
<polygon points="401.88,361.64 405.40,361.64 403.64,364.68" fill="#d01f3a"/>
<polygon points="410.82,359.35 414.34,359.35 412.58,362.38" fill="#d01f3a"/>
<polygon points="422.74,353.23 426.26,353.23 424.50,356.27" fill="#d01f3a"/>
<polygon points="431.68,340.25 435.20,340.25 433.44,343.28" fill="#d01f3a"/>
<polygon points="443.60,330.31 447.12,330.31 445.36,333.35" fill="#d01f3a"/>
<polygon points="452.54,310.26 456.06,310.26 454.30,313.30" fill="#d01f3a"/>
<polygon points="461.48,276.36 465.00,276.36 463.24,279.40" fill="#d01f3a"/>
<polygon points="431.68,362.86 435.20,362.86 433.44,359.82" fill="#0e5184"/>
<polygon points="443.60,361.33 447.12,361.33 445.36,358.29" fill="#0e5184"/>
<polygon points="452.54,356.94 456.06,356.94 454.30,353.90" fill="#0e5184"/>
<polygon points="461.48,356.94 465.00,356.94 463.24,353.90" fill="#0e5184"/>
<circle cx="445.36" cy="362.92" r="1.70" fill="#33b54a"/>
<circle cx="454.30" cy="358.71" r="1.70" fill="#33b54a"/>
<circle cx="463.24" cy="355.66" r="1.70" fill="#33b54a"/>
<rect x="401.84" y="363.60" width="3.60" height="3.60" fill="#55206f"/>
<rect x="410.78" y="363.60" width="3.60" height="3.60" fill="#55206f"/>
<rect x="422.70" y="363.60" width="3.60" height="3.60" fill="#55206f"/>
<rect x="431.64" y="363.60" width="3.60" height="3.60" fill="#55206f"/>
<rect x="443.56" y="362.45" width="3.60" height="3.60" fill="#55206f"/>
<rect x="452.50" y="359.40" width="3.60" height="3.60" fill="#55206f"/>
<rect x="461.44" y="359.97" width="3.60" height="3.60" fill="#55206f"/>
<circle cx="350.00" cy="365.40" r="1.80" fill="#55206f"/>
<line x1="362.20" y1="217.50" x2="372.50" y2="217.50" stroke="#d01f3a" stroke-width="1.3" stroke-dasharray="1.5,0.8" stroke-linecap="butt"/>
<polygon points="365.31,215.98 369.49,215.98 367.40,219.59" fill="#d01f3a"/>
<text x="375.40" y="219.90" font-size="8.2" textLength="84.70" lengthAdjust="spacingAndGlyphs">Gli3 <tspan font-style="italic">Xt</tspan><tspan dy="-3.1" font-size="5.3">+/–</tspan><tspan dy="3.1"> KIT D816V cells</tspan></text>
<line x1="362.20" y1="227.90" x2="372.50" y2="227.90" stroke="#0e5184" stroke-width="1.3" stroke-linecap="butt"/>
<polygon points="365.31,229.42 369.49,229.42 367.40,225.81" fill="#0e5184"/>
<text x="375.40" y="230.30" font-size="8.2" textLength="80.80" lengthAdjust="spacingAndGlyphs">Gli3 WT KIT D816V cells</text>
<line x1="362.20" y1="238.30" x2="372.50" y2="238.30" stroke="#33b54a" stroke-width="1.3" stroke-linecap="butt"/>
<circle cx="367.40" cy="238.30" r="1.90" fill="#33b54a"/>
<text x="375.40" y="240.70" font-size="8.2" textLength="69.50" lengthAdjust="spacingAndGlyphs">Gli3 WT KIT WT cells</text>
<line x1="362.20" y1="249.50" x2="372.50" y2="249.50" stroke="#55206f" stroke-width="1.3" stroke-dasharray="1.5,0.8" stroke-linecap="butt"/>
<rect x="365.50" y="247.60" width="3.80" height="3.80" fill="#55206f"/>
<text x="375.40" y="251.90" font-size="8.2" textLength="73.60" lengthAdjust="spacingAndGlyphs">Gli3 <tspan font-style="italic">Xt</tspan><tspan dy="-3.1" font-size="5.3">+/–</tspan><tspan dy="3.1"> KIT WT cells</tspan></text>
<rect x="0.5" y="0.5" width="519" height="419" fill="none" stroke="#1a1a1a" stroke-width="1.2"/>
</svg>
</body></html>
